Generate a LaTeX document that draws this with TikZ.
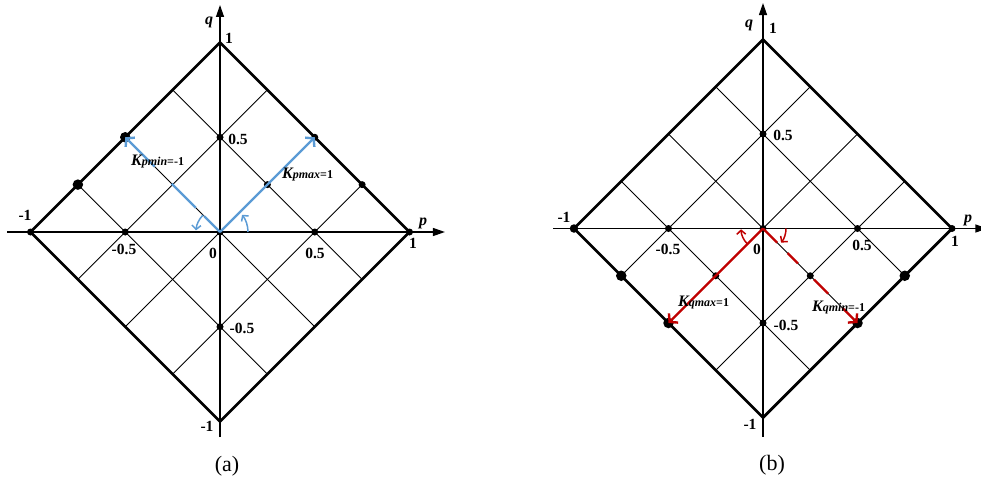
\documentclass[tikz,border=0pt]{standalone}
\usepackage{fontspec}
\setmainfont{Liberation Serif}
\usetikzlibrary{arrows.meta,calc}
\definecolor{kblue}{RGB}{91,155,213}
\definecolor{kred}{RGB}{192,0,0}
\newcommand\KLbig[1]{{\fontsize{16}{16}\selectfont\bfseries\itshape #1}}
\newcommand\KLsub[1]{{\fontsize{12}{12}\selectfont\bfseries\itshape #1}}
\newcommand\KLnum[1]{{\fontsize{12}{12}\selectfont\bfseries #1}}
\newcommand\pqgridlines{%
  \draw[gridline] (-0.25,0.75) -- (0.75,-0.25);
  \draw[gridline] (-0.5,0.5) -- (0.5,-0.5);
  \draw[gridline] (-0.75,0.25) -- (0.25,-0.75);
  \draw[gridline] (0.25,0.75) -- (-0.75,-0.25);
  \draw[gridline] (0.5,0.5) -- (-0.5,-0.5);
  \draw[gridline] (0.75,0.25) -- (-0.25,-0.75);
  \draw[outline] (-1,0) -- (0,1) -- (1,0) -- (0,-1) -- cycle;
}
\tikzset{
  outline/.style={line width=2.8pt, line join=miter},
  gridline/.style={line width=0.9pt},
  axisline/.style={line width=1.3pt, -{Triangle[length=12pt,width=8pt]}},
  sdot/.style={circle, fill=black, inner sep=0pt, minimum size=7pt},
  mdot/.style={circle, fill=black, inner sep=0pt, minimum size=8.5pt},
  bdot/.style={circle, fill=black, inner sep=0pt, minimum size=10.5pt},
  numlbl/.style={inner sep=0pt, font=\fontsize{15.5}{15.5}\selectfont\bfseries},
  axlbl/.style={inner sep=0pt, font=\fontsize{16}{16}\selectfont\bfseries\itshape},
  caplbl/.style={inner sep=0pt, font=\fontsize{22}{22}\selectfont},
  klbl/.style={inner sep=0pt, anchor=base west},
  kline/.style={line width=2.4pt},
  karrow/.style={kline, -{Straight Barb[length=5.5pt,width=13pt]}},
  turnarrow/.style={line width=1.5pt, -{Straight Barb[length=4pt,width=9pt]}},
}
\begin{document}
\begin{tikzpicture}[x=1pt,y=-1pt]
\useasboundingbox (0,0) rectangle (981,480);
% ---------------- (a) ----------------
\begin{scope}[shift={(220,232)}, x=189.5pt, y=189.5pt]
  \coordinate (a-xl) at (-1.124,0);
  \coordinate (a-xr) at (1.187,0);
  \coordinate (a-yb) at (0,-1.082);
  \coordinate (a-yt) at (0,1.198);
  \draw[axisline] (a-xl) -- (a-xr);
  \draw[axisline] (a-yb) -- (a-yt);
  \pqgridlines
  \node[bdot] (a-b1) at (-0.5,0.5) {};
  \node[bdot] (a-b2) at (-0.75,0.25) {};
  \node[sdot] (a-l) at (-1,0) {};
  \node[sdot] (a-hl) at (-0.5,0) {};
  \node[sdot] (a-o) at (0,0) {};
  \node[sdot] (a-hr) at (0.5,0) {};
  \node[sdot] (a-r) at (1,0) {};
  \node[sdot] (a-ht) at (0,0.5) {};
  \node[sdot] (a-hb) at (0,-0.5) {};
  \node[sdot] (a-m) at (0.25,0.25) {};
  \node[sdot] (a-t) at (0.5,0.5) {};
  \node[sdot] (a-e) at (0.75,0.25) {};
  \draw[karrow, kblue] (a-o.center) -- (a-t.center);
  % dashed K_pmin line, dashes drawn as segments
  \draw[kline, kblue] (a-o.center) -- ($(a-o.center)!0.165!(a-b1.center)$);
  \draw[kline, kblue] ($(a-o.center)!0.255!(a-b1.center)$) -- ($(a-o.center)!0.51!(a-b1.center)$);
  \draw[karrow, kblue] ($(a-o.center)!0.69!(a-b1.center)$) -- (a-b1.center);
  \draw[turnarrow, kblue] ([shift={(0:28pt)}]a-o.center) arc[start angle=0, end angle=38, radius=28pt];
  \draw[turnarrow, kblue] ([shift={(135:24pt)}]a-o.center) arc[start angle=135, end angle=176, radius=24pt];
\end{scope}
\node[axlbl] (a-q) at (209,22) {q};
\node[axlbl] (a-p) at (423,223) {p};
\node[numlbl] (a-n1t) at (229,38) {1};
\node[numlbl] (a-n5t) at (238,139) {0.5};
\node[numlbl] (a-n1l) at (25,215) {-1};
\node[numlbl] (a-n1r) at (413,243) {1};
\node[numlbl] (a-n5r) at (315,253) {0.5};
\node[numlbl] (a-n0) at (213,253) {0};
\node[numlbl] (a-n5l) at (124,249) {-0.5};
\node[numlbl] (a-n5b) at (242,328) {-0.5};
\node[numlbl] (a-n1b) at (207,426) {-1};
\node[caplbl] (a-cap) at (227,466) {(a)};
\node[klbl] (a-kmin) at (131,165) {\KLbig{K}\KLsub{pmin}\KLnum{=-1}};
\node[klbl] (a-kmax) at (282,178) {\KLbig{K}\KLsub{pmax}\KLnum{=1}};
% ---------------- (b) ----------------
\begin{scope}[shift={(763,228.5)}, x=189pt, y=189pt]
  \coordinate (b-xl) at (-1.111,0);
  \coordinate (b-xr) at (1.187,0);
  \coordinate (b-yb) at (0,-1.103);
  \coordinate (b-yt) at (0,1.193);
  \draw[axisline] (b-xl) -- (b-xr);
  \draw[axisline] (b-yb) -- (b-yt);
  \pqgridlines
  \node[bdot] (b-b1) at (-0.5,-0.5) {};
  \node[bdot] (b-b2) at (-0.75,-0.25) {};
  \node[bdot] (b-b3) at (0.5,-0.5) {};
  \node[bdot] (b-b4) at (0.75,-0.25) {};
  \node[mdot] (b-l) at (-1,0) {};
  \node[sdot] (b-hl) at (-0.5,0) {};
  \node[sdot] (b-o) at (0,0) {};
  \node[sdot] (b-hr) at (0.5,0) {};
  \node[sdot] (b-r) at (1,0) {};
  \node[sdot] (b-ht) at (0,0.5) {};
  \node[sdot] (b-hb) at (0,-0.5) {};
  \node[sdot] (b-ml) at (-0.25,-0.25) {};
  \node[sdot] (b-mr) at (0.25,-0.25) {};
  \draw[karrow, kred] (b-o.center) -- (b-b1.center);
  % dashed K_qmin line, dashes drawn as segments
  \draw[kline, kred] (b-o.center) -- ($(b-o.center)!0.15!(b-b3.center)$);
  \draw[kline, kred] ($(b-o.center)!0.26!(b-b3.center)$) -- ($(b-o.center)!0.37!(b-b3.center)$);
  \draw[kline, kred] ($(b-o.center)!0.54!(b-b3.center)$) -- ($(b-o.center)!0.69!(b-b3.center)$);
  \draw[karrow, kred] ($(b-o.center)!0.84!(b-b3.center)$) -- (b-b3.center);
  \draw[turnarrow, kred] ([shift={(225:22pt)}]b-o.center) arc[start angle=225, end angle=182, radius=22pt];
  \draw[turnarrow, kred] ([shift={(0:23pt)}]b-o.center) arc[start angle=0, end angle=-38, radius=23pt];
\end{scope}
\node[axlbl] (b-q) at (749,25) {q};
\node[axlbl] (b-p) at (968,220) {p};
\node[numlbl] (b-n1t) at (773,28) {1};
\node[numlbl] (b-n5t) at (783,135) {0.5};
\node[numlbl] (b-n1l) at (564,217) {-1};
\node[numlbl] (b-n1r) at (955,241) {1};
\node[numlbl] (b-n5r) at (862,245) {0.5};
\node[numlbl] (b-n0) at (757,249) {0};
\node[numlbl] (b-n5l) at (668,249) {-0.5};
\node[numlbl] (b-n5b) at (786,325) {-0.5};
\node[numlbl] (b-n1b) at (750,424) {-1};
\node[caplbl] (b-cap) at (772,465) {(b)};
\node[klbl] (b-kmax) at (678,306) {\KLbig{K}\KLsub{qmax}\KLnum{=1}};
\node[klbl] (b-kmin) at (812,311) {\KLbig{K}\KLsub{qmin}\KLnum{=-1}};
\end{tikzpicture}
\end{document}
